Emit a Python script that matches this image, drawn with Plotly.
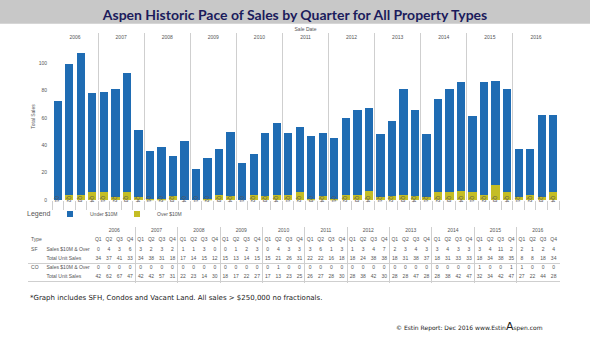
import plotly.graph_objects as go

# ---------------- data ----------------
years = ["2006", "2007", "2008", "2009", "2010", "2011", "2012", "2013", "2014", "2015", "2016"]
quarters = ["Q1", "Q2", "Q3", "Q4"]

under_10m = [72, 95, 103, 72,  73, 79, 87, 49,  35, 38, 29, 43,  23, 30, 33, 47,
             27, 30, 46, 52,  45, 47, 46, 46,  44, 56, 62, 60,  46, 55, 77, 63,
             46, 68, 75, 79,  55, 82, 76, 75,  35, 33, 60, 56]
over_10m = [0, 4, 4, 6,  6, 2, 6, 2,  1, 1, 3, 0,  0, 1, 4, 3,
            0, 4, 3, 4,  4, 6, 1, 3,  1, 4, 4, 7,  2, 3, 4, 3,
            2, 6, 6, 7,  6, 4, 11, 6,  2, 4, 2, 6]

y_ticks = [0, 20, 40, 60, 80, 100]

# table rows
sf_over = [0, 4, 3, 6,  3, 2, 3, 2,  1, 1, 3, 0,  0, 1, 2, 3,  0, 4, 3, 3,  3, 6, 1, 3,
           1, 3, 4, 7,  2, 3, 4, 3,  3, 4, 3, 3,  3, 4, 11, 2,  2, 1, 2, 4]
sf_total = [34, 37, 41, 33,  34, 38, 31, 18,  17, 14, 15, 12,  15, 13, 14, 15,  15, 21, 26, 31,
            22, 22, 16, 18,  18, 24, 38, 38,  18, 31, 38, 37,  18, 31, 33, 33,  18, 34, 38, 35,
            8, 8, 18, 34]
co_over = [0, 0, 0, 0,  0, 0, 0, 0,  0, 0, 0, 0,  0, 0, 0, 0,  0, 1, 0, 0,  0, 0, 0, 0,
           0, 0, 0, 0,  0, 0, 0, 0,  0, 0, 0, 0,  1, 0, 0, 1,  1, 0, 0, 0]
co_total = [42, 62, 67, 47,  42, 42, 57, 31,  22, 23, 14, 30,  18, 17, 22, 27,  17, 13, 23, 25,
            26, 27, 28, 30,  28, 38, 42, 30,  28, 28, 47, 28,  28, 38, 42, 47,  32, 34, 42, 47,
            27, 22, 44, 28]
row_types = ["Type", "SF", "CO"]
row_labels = ["Sales $10M & Over", "Total Unit Sales", "Sales $10M & Over", "Total Unit Sales"]

# ---------------- helpers ----------------
W, H = 590, 338
def px(p):
    return p / W
def py(p):
    return 1 - p / H

BLUE = "#1f6cb3"
OLIVE = "#c4bd25"
GRID = "#cfcfcf"
TXT = "#555555"
FAM = "Liberation Sans, Arial"
SMALL = dict(family=FAM, size=5, color=TXT)

cats = [f"{y} {q}" for y in years for q in quarters]
qlabels = [q for y in years for q in quarters]
n = len(cats)
year_centers = [i * 4 + 1.5 for i in range(len(years))]
year_bounds = [i * 4 - 0.5 for i in range(1, len(years) + 1)]

fig = go.Figure()
fig.add_trace(go.Bar(x=cats, y=over_10m, name="Over $10M", marker=dict(color=OLIVE, line=dict(width=0)),
                     showlegend=False, hoverinfo="skip"))
fig.add_trace(go.Bar(x=cats, y=under_10m, name="Under $10M", marker=dict(color=BLUE, line=dict(width=0)),
                     showlegend=False, hoverinfo="skip"))
# legend entries (small squares, like the reference)
fig.add_trace(go.Scatter(x=[None], y=[None], mode="markers", name="Under $10M",
                         marker=dict(symbol="square", size=6, color=BLUE), legendrank=1))
fig.add_trace(go.Scatter(x=[None], y=[None], mode="markers", name="Over $10M",
                         marker=dict(symbol="square", size=6, color=OLIVE), legendrank=2))
# carrier for the top (year) axis
fig.add_trace(go.Scatter(x=year_centers, y=[0] * len(years), xaxis="x2", yaxis="y", mode="none",
                         showlegend=False, hoverinfo="skip"))

# ---------------- table as text on its own axes ----------------
cols = list(range(n))
def text_row(xs, ys, texts, pos="middle center", size=5):
    fig.add_trace(go.Scatter(x=xs, y=ys, text=[str(t) for t in texts], mode="text", textposition=pos,
                             textfont=dict(family=FAM, size=size, color=TXT),
                             xaxis="x3", yaxis="y3", showlegend=False, hoverinfo="skip"))

TYPE_COL = -6.35
LABEL_COL = -4.9
text_row(year_centers, [0] * len(years), years)
text_row(cols, [1] * n, qlabels)
text_row(cols, [2] * n, sf_over)
text_row(cols, [3] * n, sf_total)
text_row(cols, [4] * n, co_over)
text_row(cols, [5] * n, co_total)
text_row([TYPE_COL] * 3, [1, 2, 4], row_types, pos="middle right")
text_row([LABEL_COL] * 4, [2, 3, 4, 5], row_labels, pos="middle right")

fig.update_layout(
    width=W, height=H,
    margin=dict(l=0, r=0, t=0, b=0),
    paper_bgcolor="white", plot_bgcolor="white",
    barmode="stack", bargap=0.28,
    showlegend=True,
    font=dict(family=FAM, size=5, color=TXT),
    title=dict(text="<b>Aspen Historic Pace of Sales by Quarter for All Property Types</b>",
               x=0.5, xanchor="center", y=py(15), yanchor="middle", yref="container",
               font=dict(family="Lato", size=14, color="#1b1b5c")),
    xaxis=dict(domain=[px(52), px(559)], type="category", categoryorder="array", categoryarray=cats,
               tickmode="array", tickvals=cats, ticktext=qlabels, tickson="boundaries",
               ticks="outside", ticklen=9, tickcolor=GRID, tickwidth=1,
               ticklabelstandoff=-8, tickfont=SMALL, showgrid=False, showline=False,
               zeroline=False, anchor="y", fixedrange=True),
    xaxis2=dict(overlaying="x", side="top", anchor="y", range=[-0.5, n - 0.5],
                tickmode="array", tickvals=year_centers, ticktext=years, ticks="",
                ticklabelposition="inside", tickfont=SMALL, showgrid=False, zeroline=False,
                showline=False,
                minor=dict(tickmode="array", tickvals=year_bounds, showgrid=True, gridcolor=GRID,
                           gridwidth=1, ticks=""),
                title=dict(text="Sale Date", font=SMALL, standoff=2), fixedrange=True),
    yaxis=dict(domain=[py(202), py(33)], range=[0, 122], tickmode="array", tickvals=y_ticks,
               ticks="", showgrid=False, zeroline=False, showline=False, tickfont=SMALL,
               ticklabelstandoff=4,
               title=dict(text="Total Sales", font=SMALL, standoff=2), fixedrange=True),
    xaxis3=dict(domain=[px(28), px(560)], range=[-6.64, 43.6], anchor="y3", showticklabels=False,
                tickmode="array", tickvals=year_bounds[:-1], showgrid=True, gridcolor=GRID,
                gridwidth=1, ticks="", zeroline=False, showline=False, fixedrange=True),
    yaxis3=dict(domain=[py(286), py(229)], range=[5.68, -0.43], anchor="x3", showticklabels=False,
                tickmode="array", tickvals=[3.5, 5.5], showgrid=True, gridcolor=GRID, gridwidth=1,
                ticks="", zeroline=False, showline=False, fixedrange=True),
    legend=dict(orientation="h", x=px(50), xanchor="left", y=py(216), yanchor="middle",
                font=SMALL, itemwidth=30, entrywidth=22, bgcolor="rgba(0,0,0,0)",
                traceorder="normal"),
    shapes=[dict(type="rect", xref="paper", yref="paper", x0=0, x1=1, y0=py(24), y1=1,
                 fillcolor="#c8c8c8", line=dict(width=0), layer="below")],
    annotations=[
        dict(text="Legend", xref="paper", yref="paper", x=px(25), y=py(216), xanchor="left",
             yanchor="middle", showarrow=False, font=dict(family=FAM, size=7, color=TXT)),
        dict(text="*Graph includes SFH, Condos and Vacant Land. All sales > $250,000 no fractionals.",
             xref="paper", yref="paper", x=px(28), y=py(301), xanchor="left", yanchor="middle",
             showarrow=False, font=dict(family="DejaVu Sans", size=7, color="#222222")),
        dict(text="© Estin Report: Dec 2016 www.Estin<span style='font-size:11px'>A</span>spen.com",
             xref="paper", yref="paper", x=px(545), y=py(329), xanchor="right", yanchor="middle",
             showarrow=False, font=dict(family="DejaVu Sans", size=6, color="#222222")),
    ],
)

fig.write_html("out.html")
